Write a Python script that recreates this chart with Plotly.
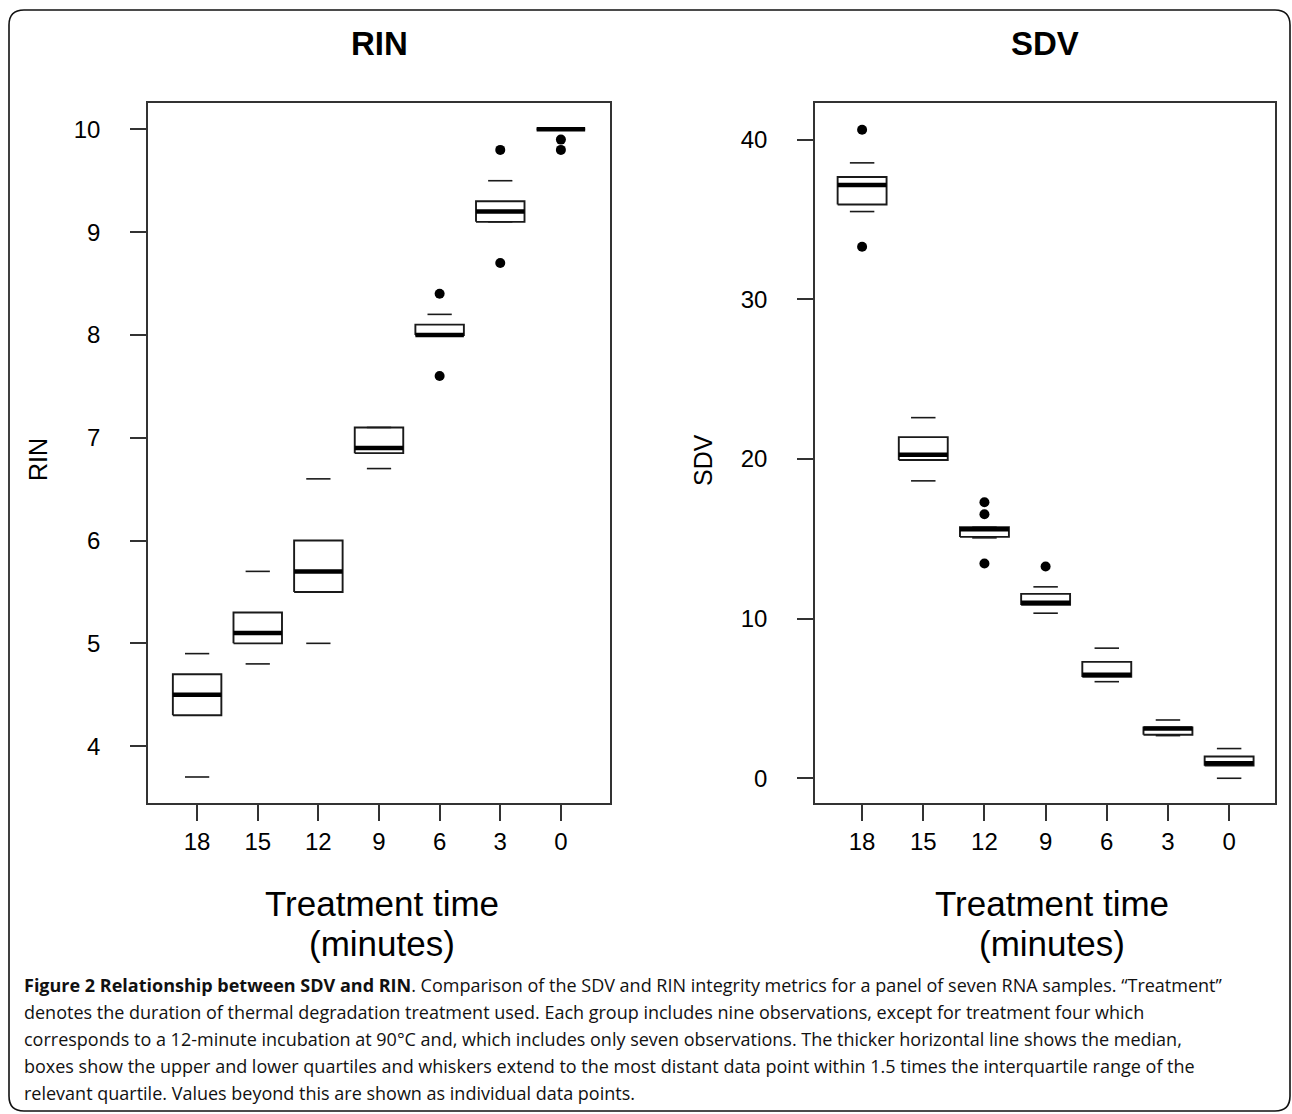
import plotly.graph_objects as go

W, H = 1292, 1114

# ---------------- data ----------------
categories = ["18", "15", "12", "9", "6", "3", "0"]

rin_lower = [3.7, 4.8, 5.0, 6.7, 8.0, 9.1, 10.0]
rin_q1 = [4.3, 5.0, 5.5, 6.85, 8.0, 9.1, 10.0]
rin_median = [4.5, 5.1, 5.7, 6.9, 8.0, 9.2, 10.0]
rin_q3 = [4.7, 5.3, 6.0, 7.1, 8.1, 9.3, 10.0]
rin_upper = [4.9, 5.7, 6.6, 7.1, 8.2, 9.5, 10.0]
rin_outlier_group = ["6", "6", "3", "3", "0", "0"]
rin_outlier_value = [8.4, 7.6, 9.8, 8.7, 9.9, 9.8]

sdv_lower = [35.5, 18.63, 15.06, 10.34, 6.05, 2.67, 0.0]
sdv_q1 = [35.94, 19.94, 15.12, 10.86, 6.35, 2.73, 0.79]
sdv_median = [37.17, 20.26, 15.6, 11.0, 6.49, 3.11, 0.94]
sdv_q3 = [37.66, 21.37, 15.73, 11.55, 7.29, 3.19, 1.36]
sdv_upper = [38.55, 22.59, 15.73, 11.99, 8.15, 3.65, 1.86]
sdv_outlier_group = ["18", "18", "12", "12", "12", "9"]
sdv_outlier_value = [40.62, 33.29, 17.29, 16.54, 13.45, 13.26]

rin_ticks = [4, 5, 6, 7, 8, 9, 10]
sdv_ticks = [0, 10, 20, 30, 40]

caption_lines = [
    "<b>Figure 2 Relationship between SDV and RIN</b>. Comparison of the SDV and RIN integrity metrics for a panel of seven RNA samples. \u201cTreatment\u201d",
    "denotes the duration of thermal degradation treatment used. Each group includes nine observations, except for treatment four which",
    "corresponds to a 12-minute incubation at 90\u00b0C and, which includes only seven observations. The thicker horizontal line shows the median,",
    "boxes show the upper and lower quartiles and whiskers extend to the most distant data point within 1.5 times the interquartile range of the",
    "relevant quartile. Values beyond this are shown as individual data points.",
]

# ---------------- helpers (window pixel -> paper) ----------------
def px(x):
    return x / W

def py(y):
    return 1 - y / H

INK = "#1a1a1a"
BOX_HALF = 0.4
CAP_HALF = 0.2


def box_traces(lower, q1, med, q3, upper, og, ov, xa, ya):
    pos = {c: i + 1 for i, c in enumerate(categories)}
    bx, by, mx, my, cx, cy = [], [], [], [], [], []
    for i, c in enumerate(categories):
        p = pos[c]
        bx += [p - BOX_HALF, p + BOX_HALF, p + BOX_HALF, p - BOX_HALF, p - BOX_HALF, None]
        by += [q1[i], q1[i], q3[i], q3[i], q1[i], None]
        mx += [p - BOX_HALF, p + BOX_HALF, None]
        my += [med[i], med[i], None]
        cx += [p - CAP_HALF, p + CAP_HALF, None, p - CAP_HALF, p + CAP_HALF, None]
        cy += [lower[i], lower[i], None, upper[i], upper[i], None]
    return [
        go.Scatter(x=cx, y=cy, mode="lines", line=dict(color=INK, width=1.6),
                   xaxis=xa, yaxis=ya, hoverinfo="skip"),
        go.Scatter(x=bx, y=by, mode="lines", line=dict(color=INK, width=1.9),
                   xaxis=xa, yaxis=ya, hoverinfo="skip"),
        go.Scatter(x=mx, y=my, mode="lines", line=dict(color="black", width=4.5),
                   xaxis=xa, yaxis=ya, hoverinfo="skip"),
        go.Scatter(x=[pos[g] for g in og], y=ov, mode="markers",
                   marker=dict(color="black", size=10, symbol="circle"),
                   xaxis=xa, yaxis=ya, hoverinfo="skip"),
    ]


fig = go.Figure()
for t in box_traces(rin_lower, rin_q1, rin_median, rin_q3, rin_upper,
                    rin_outlier_group, rin_outlier_value, "x", "y"):
    fig.add_trace(t)
for t in box_traces(sdv_lower, sdv_q1, sdv_median, sdv_q3, sdv_upper,
                    sdv_outlier_group, sdv_outlier_value, "x2", "y2"):
    fig.add_trace(t)

FONT = "Liberation Sans, Arial, sans-serif"
tickfont = dict(family=FONT, size=24, color="black")

common_axis = dict(showline=True, mirror=True, linecolor="#333333", linewidth=1.5,
                   ticks="outside", ticklen=16, tickwidth=1.5, tickcolor="#333333",
                   showgrid=False, zeroline=False, tickfont=tickfont, fixedrange=True)

y_dom = [py(803), py(103)]
fig.update_layout(
    width=W, height=H,
    margin=dict(l=0, r=0, t=0, b=0),
    paper_bgcolor="white", plot_bgcolor="white",
    showlegend=False,
    xaxis=dict(domain=[px(148), px(610)], range=[0.19, 7.81],
               tickvals=list(range(1, 8)), ticktext=categories, anchor="y",
               **common_axis),
    yaxis=dict(domain=y_dom, range=[3.447, 10.256], tickvals=rin_ticks,
               ticklabelstandoff=25, anchor="x", **common_axis),
    xaxis2=dict(domain=[px(815), px(1275)], range=[0.23, 7.75],
                tickvals=list(range(1, 8)), ticktext=categories, anchor="y2",
                **common_axis),
    yaxis2=dict(domain=y_dom, range=[-1.55, 42.3], tickvals=sdv_ticks,
                ticklabelstandoff=25, anchor="x2", **common_axis),
)

ann = []
ann.append(dict(text="<b>RIN</b>", x=px(379), y=py(44), font=dict(family=FONT, size=33, color="black")))
ann.append(dict(text="<b>SDV</b>", x=px(1045), y=py(44), font=dict(family=FONT, size=33, color="black")))
ann.append(dict(text="RIN", x=px(38), y=py(460), textangle=-90, font=dict(family=FONT, size=25, color="black")))
ann.append(dict(text="SDV", x=px(703), y=py(460), textangle=-90, font=dict(family=FONT, size=25, color="black")))
for cx in (382, 1052):
    ann.append(dict(text="Treatment time", x=px(cx), y=py(903), font=dict(family=FONT, size=35, color="black")))
    ann.append(dict(text="(minutes)", x=px(cx), y=py(943), font=dict(family=FONT, size=35, color="black")))
for a in ann:
    a.update(xref="paper", yref="paper", showarrow=False, xanchor="center", yanchor="middle")

cap_y = [985, 1012, 1039, 1066, 1093]
for line, yy in zip(caption_lines, cap_y):
    ann.append(dict(text=line, x=px(22), y=py(yy), xref="paper", yref="paper", showarrow=False,
                    xanchor="left", yanchor="middle",
                    font=dict(family="Open Sans, sans-serif", size=18, color="#111111")))
fig.update_layout(annotations=ann)

# rounded outer frame
x0, x1, y0, y1, r = 9, 1290, 10, 1111, 15
path = (f"M {px(x0 + r)},{py(y0)} L {px(x1 - r)},{py(y0)} Q {px(x1)},{py(y0)} {px(x1)},{py(y0 + r)} "
        f"L {px(x1)},{py(y1 - r)} Q {px(x1)},{py(y1)} {px(x1 - r)},{py(y1)} "
        f"L {px(x0 + r)},{py(y1)} Q {px(x0)},{py(y1)} {px(x0)},{py(y1 - r)} "
        f"L {px(x0)},{py(y0 + r)} Q {px(x0)},{py(y0)} {px(x0 + r)},{py(y0)} Z")
fig.add_shape(type="path", path=path, xref="paper", yref="paper",
              line=dict(color="#111111", width=1.6), layer="below")

fig.write_html(
    "out.html",
    config={"displayModeBar": False},
    post_script="document.body.style.margin='0px';document.body.style.overflow='hidden';",
)
